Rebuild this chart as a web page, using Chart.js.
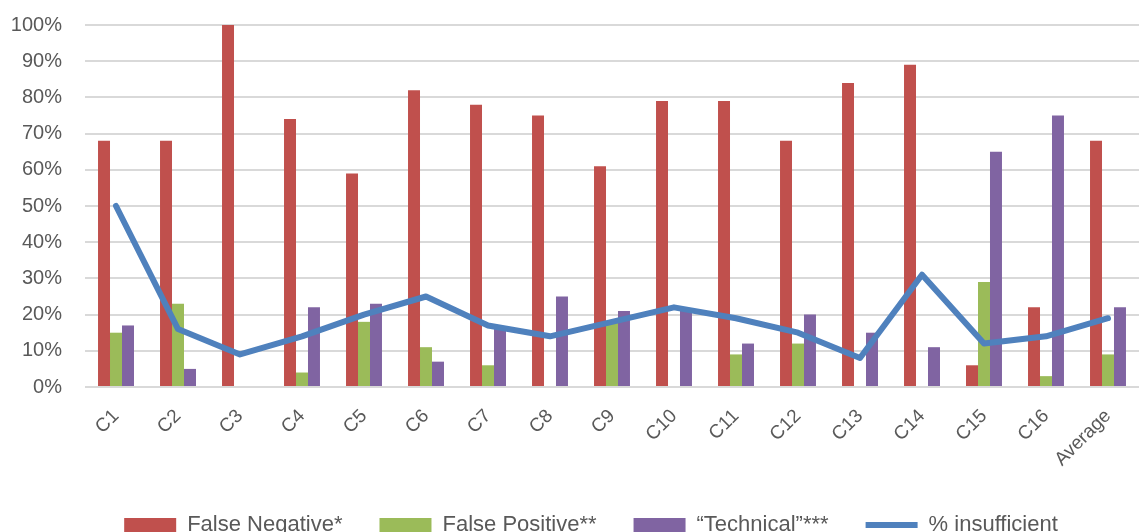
<!DOCTYPE html>
<html>
<head>
<meta charset="utf-8">
<script src="https://cdn.jsdelivr.net/npm/chart.js@4/dist/chart.umd.min.js"></script>
<style>
  html, body { margin: 0; padding: 0; background: #fff; overflow: hidden; }
  #wrap { width: 1139px; height: 546px; }
</style>
</head>
<body>
<div id="wrap"><canvas id="c" width="1139" height="546"></canvas></div>
<script>
const categories = ["C1","C2","C3","C4","C5","C6","C7","C8","C9","C10","C11","C12","C13","C14","C15","C16","Average"];
const falseNegative = [68,68,100,74,59,82,78,75,61,79,79,68,84,89,6,22,68];
const falsePositive = [15,23,0,4,18,11,6,0,18,0,9,12,0,0,29,3,9];
const technical     = [17,5,0,22,23,7,16,25,21,21,12,20,15,11,65,75,22];
const insufficient  = [50,16,9,14,20,25,17,14,18,22,19,15,8,31,12,14,19];
const yMin = 0, yMax = 100, yStep = 10;

const FONT = "'Liberation Sans', Arial, sans-serif";
const TXT = '#595959';

const legendShift = {
  id: 'legendShift',
  afterLayout(chart) {
    const lg = chart.legend;
    if (lg) { lg.left += 18; lg.right += 18; }
  }
};

new Chart(document.getElementById('c'), {
  type: 'bar',
  plugins: [legendShift],
  data: {
    labels: categories,
    datasets: [
      { label: 'False Negative*', data: falseNegative, backgroundColor: '#C0504D', order: 1, pointStyle: 'rect' },
      { label: 'False Positive**', data: falsePositive, backgroundColor: '#9BBB59', order: 1, pointStyle: 'rect' },
      { label: '\u201CTechnical\u201D***', data: technical, backgroundColor: '#8064A2', order: 1, pointStyle: 'rect' },
      { type: 'line', label: '% insufficient', data: insufficient, borderColor: '#4F81BD', backgroundColor: '#4F81BD',
        borderWidth: 6, pointRadius: 0, pointHoverRadius: 0, tension: 0, fill: false,
        borderCapStyle: 'round', borderJoinStyle: 'round', order: 0, pointStyle: 'line' }
    ]
  },
  options: {
    responsive: false,
    animation: false,
    layout: { padding: { top: 25, right: 0, left: 7, bottom: 0 } },
    datasets: { bar: { categoryPercentage: 0.58, barPercentage: 1.0, borderWidth: 0 } },
    plugins: {
      tooltip: { enabled: false },
      legend: {
        position: 'bottom',
        labels: {
          usePointStyle: true,
          pointStyleWidth: 52,
          boxHeight: 14,
          padding: 37,
          color: TXT,
          font: { family: FONT, size: 22 },
          sort: (a, b) => a.datasetIndex - b.datasetIndex
        }
      }
    },
    scales: {
      x: {
        grid: { display: false },
        border: { display: false },
        ticks: { color: TXT, font: { family: FONT, size: 19 }, maxRotation: 45, minRotation: 45, padding: 10 },
        afterFit: (s) => { s.height = 90; }
      },
      y: {
        min: yMin, max: yMax,
        grid: { color: '#D9D9D9', lineWidth: 2, drawTicks: true, tickLength: 23, tickColor: 'rgba(0,0,0,0)' },
        border: { display: false },
        ticks: { stepSize: yStep, color: TXT, font: { family: FONT, size: 20 }, padding: 0,
                 callback: function (v) { return v + '%'; } },
        afterFit: (s) => { s.width = 78; }
      }
    }
  }
});
</script>
</body>
</html>
